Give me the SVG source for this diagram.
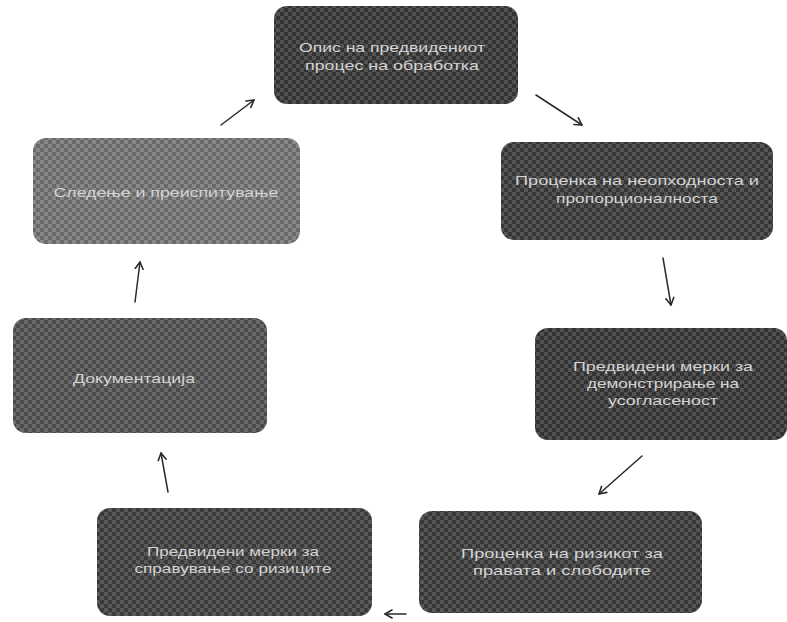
<svg xmlns="http://www.w3.org/2000/svg" width="787" height="622" viewBox="0 0 787 622">
  <defs>
    <pattern id="checker" width="8" height="8" patternUnits="userSpaceOnUse">
      <rect x="0" y="0" width="4" height="4" fill="#ffffff" fill-opacity="0.12"/>
      <rect x="4" y="4" width="4" height="4" fill="#ffffff" fill-opacity="0.12"/>
      <rect x="4" y="0" width="4" height="4" fill="#000000" fill-opacity="0.12"/>
      <rect x="0" y="4" width="4" height="4" fill="#000000" fill-opacity="0.12"/>
    </pattern>
    <marker id="arrow" markerWidth="10" markerHeight="10" refX="8" refY="5" orient="auto" markerUnits="userSpaceOnUse">
      <path d="M1,1 L8,5 L1,9" fill="none" stroke="#2a2a2a" stroke-width="1.6" stroke-linecap="round" stroke-linejoin="round"/>
    </marker>
  </defs>
  <style>
    .box { stroke: none; }
    .tex { fill: url(#checker); }
    .lbl { font-family: "Liberation Sans", Arial, sans-serif; font-size: 13px; fill: #d4d4d4; text-anchor: middle; }
    .conn { fill: none; stroke: #2a2a2a; stroke-width: 1.5; stroke-linecap: round; marker-end: url(#arrow); }
  </style>
  <rect width="787" height="622" fill="#ffffff"/>

  <g id="node-opis">
    <rect class="box" x="274" y="6" width="244" height="98" rx="13" fill="#3a3a3a"/>
    <rect class="tex" x="274" y="6" width="244" height="98" rx="13"/>
    <text class="lbl" x="392" y="52" textLength="186" lengthAdjust="spacingAndGlyphs">Опис на предвидениот</text>
    <text class="lbl" x="392" y="70" textLength="174" lengthAdjust="spacingAndGlyphs">процес на обработка</text>
  </g>

  <g id="node-neophodnost">
    <rect class="box" x="501" y="142" width="272" height="98" rx="13" fill="#3e3e3e"/>
    <rect class="tex" x="501" y="142" width="272" height="98" rx="13"/>
    <text class="lbl" x="637" y="185" textLength="244" lengthAdjust="spacingAndGlyphs">Проценка на неопходноста и</text>
    <text class="lbl" x="637" y="203" textLength="162" lengthAdjust="spacingAndGlyphs">пропорционалноста</text>
  </g>

  <g id="node-usoglasenost">
    <rect class="box" x="535" y="328" width="252" height="112" rx="13" fill="#393939"/>
    <rect class="tex" x="535" y="328" width="252" height="112" rx="13"/>
    <text class="lbl" x="663" y="371" textLength="180" lengthAdjust="spacingAndGlyphs">Предвидени мерки за</text>
    <text class="lbl" x="663" y="388" textLength="152" lengthAdjust="spacingAndGlyphs">демонстрирање на</text>
    <text class="lbl" x="663" y="405" textLength="110" lengthAdjust="spacingAndGlyphs">усогласеност</text>
  </g>

  <g id="node-rizik">
    <rect class="box" x="419" y="511" width="283" height="102" rx="13" fill="#3f3f3f"/>
    <rect class="tex" x="419" y="511" width="283" height="102" rx="13"/>
    <text class="lbl" x="562" y="558" textLength="202" lengthAdjust="spacingAndGlyphs">Проценка на ризикот за</text>
    <text class="lbl" x="562" y="575" textLength="178" lengthAdjust="spacingAndGlyphs">правата и слободите</text>
  </g>

  <g id="node-merki-rizici">
    <rect class="box" x="97" y="508" width="275" height="108" rx="13" fill="#424242"/>
    <rect class="tex" x="97" y="508" width="275" height="108" rx="13"/>
    <text class="lbl" x="233" y="556" textLength="172" lengthAdjust="spacingAndGlyphs">Предвидени мерки за</text>
    <text class="lbl" x="233" y="573" textLength="197" lengthAdjust="spacingAndGlyphs">справување со ризиците</text>
  </g>

  <g id="node-dokumentacija">
    <rect class="box" x="13" y="318" width="254" height="115" rx="13" fill="#545454"/>
    <rect class="tex" x="13" y="318" width="254" height="115" rx="13"/>
    <text class="lbl" x="134" y="383" textLength="122" lengthAdjust="spacingAndGlyphs">Документација</text>
  </g>

  <g id="node-sledenje">
    <rect class="box" x="33" y="138" width="267" height="106" rx="13" fill="#777777"/>
    <rect class="tex" x="33" y="138" width="267" height="106" rx="13"/>
    <text class="lbl" x="166" y="197" textLength="225" lengthAdjust="spacingAndGlyphs">Следење и преиспитување</text>
  </g>

  <g id="connectors">
    <line class="conn" x1="221" y1="125" x2="254" y2="100"/>
    <line class="conn" x1="536" y1="95" x2="582" y2="125"/>
    <line class="conn" x1="663" y1="258" x2="671" y2="305"/>
    <line class="conn" x1="642" y1="456" x2="599" y2="494"/>
    <line class="conn" x1="406" y1="614" x2="385" y2="614"/>
    <line class="conn" x1="168" y1="492" x2="161" y2="453"/>
    <line class="conn" x1="135" y1="302" x2="140" y2="262"/>
  </g>
</svg>
